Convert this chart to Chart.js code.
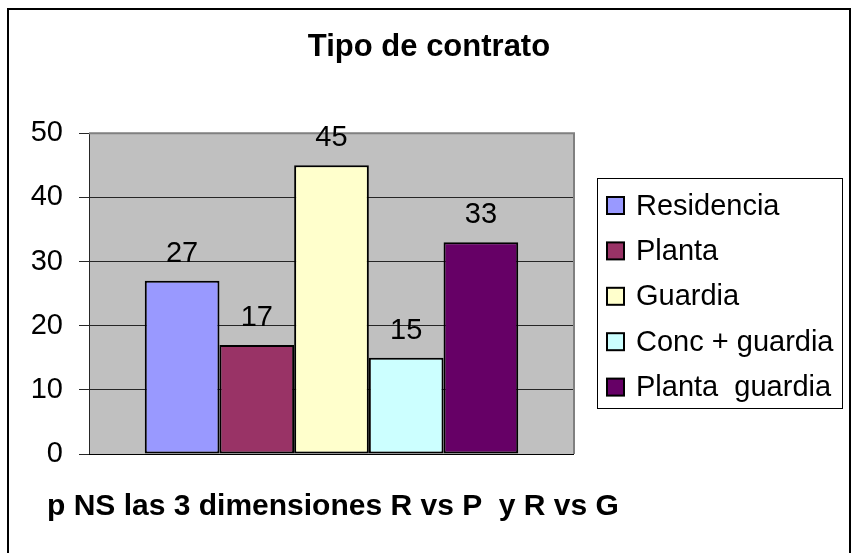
<!DOCTYPE html>
<html>
<head>
<meta charset="utf-8">
<script src="https://cdn.jsdelivr.net/npm/chart.js@4"></script>
<style>
	body { margin: 0; background: #ffffff; }
	#ContractChart { display: block; }
</style>
</head>
<body>
<canvas id="ContractChart" width="852" height="553"></canvas>
<script>
const contract_types = ["Residencia", "Planta", "Guardia", "Conc + guardia", "Planta  guardia"];
const contract_counts = [27, 17, 45, 15, 33];
const contract_colors = ["#9999FF", "#993366", "#FFFFCC", "#CCFFFF", "#660066"];
const y_ticks = [0, 10, 20, 30, 40, 50];
const chart_title = "Tipo de contrato";
const footer_note = "p NS las 3 dimensiones R vs P  y R vs G";

const font_family = "'Liberation Sans', Arial, sans-serif";

// one dataset per contract type so each bar gets its own legend entry
let datasets = [];
for (let i = 0; i < contract_types.length; i++) {
	datasets.push({
		label: contract_types[i],
		data: [contract_counts[i]],
		backgroundColor: contract_colors[i],
		borderColor: "#000000",
		borderWidth: 2,
		borderSkipped: false,
		categoryPercentage: 0.77,
		barPercentage: 1.0,
	});
}

// grey plot area, outer frame, value labels, legend box and the bottom note
const excel_look = {
	id: "excel_look",
	beforeDraw(chart) {
		const ctx = chart.ctx;
		const area = chart.chartArea;
		ctx.save();
		ctx.fillStyle = "#ffffff";
		ctx.fillRect(0, 0, chart.width, chart.height);
		ctx.fillStyle = "#C0C0C0";
		ctx.fillRect(area.left, area.top, area.right - area.left, area.bottom - area.top);
		ctx.restore();
	},
	beforeDatasetsDraw(chart) {
		const ctx = chart.ctx;
		const area = chart.chartArea;
		ctx.save();
		ctx.strokeStyle = "#808080";
		ctx.lineWidth = 2;
		ctx.beginPath();
		ctx.moveTo(area.left, area.top);
		ctx.lineTo(area.right, area.top);
		ctx.lineTo(area.right, area.bottom);
		ctx.stroke();
		ctx.strokeStyle = "#000000";
		ctx.lineWidth = 1;
		ctx.beginPath();
		ctx.moveTo(area.left, area.bottom + 0.5);
		ctx.lineTo(area.right, area.bottom + 0.5);
		ctx.stroke();
		ctx.restore();
	},
	afterDraw(chart) {
		const ctx = chart.ctx;
		const area = chart.chartArea;
		ctx.save();

		// value labels above the bars
		ctx.font = "29px " + font_family;
		ctx.fillStyle = "#000000";
		ctx.textAlign = "center";
		ctx.textBaseline = "alphabetic";
		chart.data.datasets.forEach(function (ds, i) {
			const bar = chart.getDatasetMeta(i).data[0];
			ctx.fillText(String(ds.data[0]), bar.x, bar.y - 19);
		});

		// legend
		const lx = area.right + 23;
		const ly = 178;
		ctx.strokeStyle = "#000000";
		ctx.lineWidth = 1;
		ctx.strokeRect(lx + 0.5, ly + 0.5, 245, 230);
		ctx.textAlign = "left";
		ctx.textBaseline = "middle";
		chart.data.datasets.forEach(function (ds, i) {
			const cy = ly + 27.5 + i * 45.4;
			ctx.fillStyle = ds.backgroundColor;
			ctx.fillRect(lx + 10, cy - 8.5, 17, 17);
			ctx.lineWidth = 2;
			ctx.strokeRect(lx + 10, cy - 8.5, 17, 17);
			ctx.fillStyle = "#000000";
			ctx.fillText(ds.label, lx + 39, cy + 1);
		});

		// bottom note
		ctx.font = "bold 30px " + font_family;
		ctx.textBaseline = "middle";
		ctx.fillText(footer_note, 47, area.bottom + 53);

		// outer frame (bottom edge falls outside the picture)
		ctx.lineWidth = 2;
		ctx.strokeRect(8, 9, 842, 580);
		ctx.restore();
	},
};

const contract_chart = new Chart(document.getElementById("ContractChart").getContext("2d"), {
	type: "bar",
	data: {
		labels: [""],
		datasets: datasets,
	},
	options: {
		responsive: false,
		animation: false,
		devicePixelRatio: 1,
		layout: {
			padding: { left: 8, right: 2, top: 10, bottom: 99 },
		},
		scales: {
			x: {
				display: false,
			},
			y: {
				min: 0,
				max: 50,
				afterFit: function (scale) {
					scale.width = 81;
				},
				afterBuildTicks: function (scale) {
					scale.ticks = y_ticks.map((v) => ({ value: v }));
				},
				ticks: {
					color: "#000000",
					padding: 16,
					font: { family: font_family, size: 29 },
				},
				grid: {
					color: "#262626",
					lineWidth: 1,
					tickLength: 10,
				},
				border: {
					color: "#262626",
					width: 1,
				},
			},
			spacer: {
				position: "right",
				display: true,
				afterFit: function (scale) {
					scale.width = 276;
				},
				ticks: { display: false },
				grid: { display: false, drawTicks: false },
				border: { display: false },
			},
		},
		plugins: {
			legend: { display: false },
			tooltip: { enabled: false },
			title: {
				display: true,
				text: chart_title,
				color: "#000000",
				font: { family: font_family, size: 31, weight: "bold" },
				padding: { top: 19, bottom: 67 },
			},
		},
	},
	plugins: [excel_look],
});
</script>
</body>
</html>
